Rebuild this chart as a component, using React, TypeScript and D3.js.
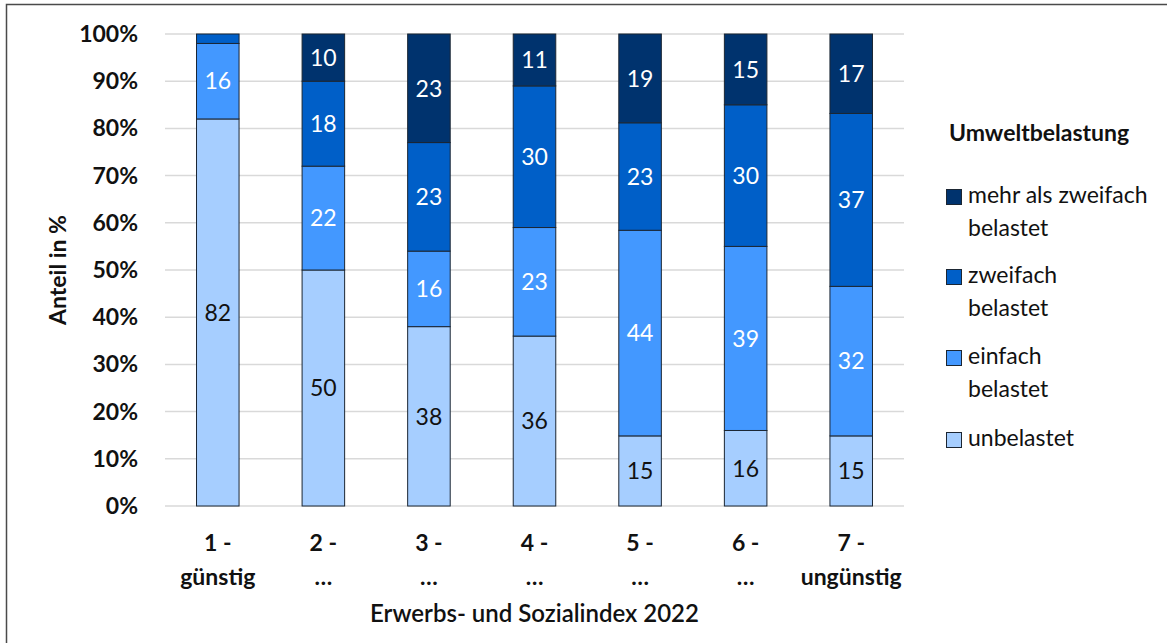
import { useEffect, useRef } from 'react';
import * as d3 from 'd3';

const categories = ['1 - günstig', '2 - …', '3 - …', '4 - …', '5 - …', '6 - …', '7 - ungünstig'];
const tickLines = [
    ['1 -', 'günstig'], ['2 -', '…'], ['3 -', '…'], ['4 -', '…'], ['5 -', '…'], ['6 -', '…'], ['7 -', 'ungünstig'],
];
const unbelastet = [82, 50, 38, 36, 15, 16, 15];
const einfach = [16, 22, 16, 23, 44, 39, 32];
const zweifach = [2, 18, 23, 30, 23, 30, 37];
const mehrfach = [0, 10, 23, 11, 19, 15, 17];

const seriesKeys = ['unbelastet', 'einfach', 'zweifach', 'mehr'];
const seriesColors = ['#A6CEFF', '#4398FF', '#005FC8', '#00336E'];
const labelColors = ['#111111', '#ffffff', '#ffffff', '#ffffff'];
const legendLabels = [
    ['mehr als zweifach', 'belastet'],
    ['zweifach', 'belastet'],
    ['einfach', 'belastet'],
    ['unbelastet'],
];
const legendColors = ['#00336E', '#005FC8', '#4398FF', '#A6CEFF'];

const FONT = 'Lato, "Noto Sans", sans-serif';

export default function App() {
    const svgRef = useRef<SVGSVGElement>(null);

    useEffect(() => {
        if (!svgRef.current) return;
        const svg = d3.select(svgRef.current);
        svg.selectAll('*').remove();

        const width = 1167, height = 643;
        const margin = { top: 34, left: 165, right: 263, bottom: 137 };
        const innerWidth = width - margin.left - margin.right;
        const innerHeight = height - margin.top - margin.bottom;

        const rows = categories.map((c, i) => ({
            cat: c,
            unbelastet: unbelastet[i],
            einfach: einfach[i],
            zweifach: zweifach[i],
            mehr: mehrfach[i],
        }));

        const stack = d3.stack<any>().keys(seriesKeys).offset(d3.stackOffsetExpand);
        const stacked = stack(rows);

        const x = d3.scaleBand().domain(categories).range([0, innerWidth]).paddingInner(0.597).paddingOuter(0.2985);
        const y = d3.scaleLinear().domain([0, 1]).range([innerHeight, 0]);

        // frame
        svg.append('rect')
            .attr('x', 6.5).attr('y', 4.5)
            .attr('width', width + 20).attr('height', height + 20)
            .attr('fill', 'white').attr('stroke', '#4a4a4a').attr('stroke-width', 1.5);

        const g = svg.append('g').attr('transform', `translate(${margin.left},${margin.top})`);

        // grid
        g.append('g').selectAll('line')
            .data(d3.range(0, 1.0001, 0.1))
            .enter().append('line')
            .attr('x1', 0).attr('x2', innerWidth)
            .attr('y1', d => y(d)).attr('y2', d => y(d))
            .attr('stroke', '#d9d9d9').attr('stroke-width', 1.5);

        // y tick labels
        g.append('g').selectAll('text')
            .data(d3.range(0, 1.0001, 0.1))
            .enter().append('text')
            .attr('x', -27).attr('y', d => y(d))
            .attr('dy', '0.35em')
            .attr('text-anchor', 'end')
            .attr('font-family', FONT).attr('font-weight', 700).attr('font-size', 23)
            .attr('fill', '#111')
            .text(d => d3.format('.0%')(d));

        // bars
        stacked.forEach((layer, si) => {
            const lg = g.append('g');
            lg.selectAll('rect')
                .data(layer)
                .enter().append('rect')
                .attr('x', d => x(d.data.cat)!)
                .attr('width', x.bandwidth())
                .attr('y', d => y(d[1]))
                .attr('height', d => Math.max(0, y(d[0]) - y(d[1])))
                .attr('fill', seriesColors[si])
                .attr('stroke', '#1b2633').attr('stroke-width', 1)
                .attr('display', d => (d[1] - d[0] > 0 ? null : 'none'));

            lg.selectAll('text')
                .data(layer.filter((d: any) => d.data[seriesKeys[si]] >= 5))
                .enter().append('text')
                .attr('x', d => x(d.data.cat)! + x.bandwidth() / 2)
                .attr('y', d => y((d[0] + d[1]) / 2))
                .attr('dy', '0.36em')
                .attr('text-anchor', 'middle')
                .attr('font-family', FONT).attr('font-size', 23)
                .attr('fill', labelColors[si])
                .text(d => d.data[seriesKeys[si]]);
        });

        // x tick labels
        const xt = g.append('g').attr('transform', `translate(0,${innerHeight})`);
        categories.forEach((c, i) => {
            const t = xt.append('text')
                .attr('x', x(c)! + x.bandwidth() / 2)
                .attr('text-anchor', 'middle')
                .attr('font-family', FONT).attr('font-weight', 700).attr('font-size', 23)
                .attr('fill', '#111');
            tickLines[i].forEach((line, li) => {
                t.append('tspan')
                    .attr('x', x(c)! + x.bandwidth() / 2)
                    .attr('y', 45 + li * 34)
                    .text(line);
            });
        });

        // axis titles
        svg.append('text')
            .attr('x', margin.left + innerWidth / 2).attr('y', 622)
            .attr('text-anchor', 'middle')
            .attr('font-family', FONT).attr('font-weight', 600).attr('font-size', 24)
            .attr('fill', '#111')
            .text('Erwerbs- und Sozialindex 2022');

        svg.append('text')
            .attr('transform', `translate(66,270) rotate(-90)`)
            .attr('text-anchor', 'middle')
            .attr('font-family', FONT).attr('font-weight', 700).attr('font-size', 23)
            .attr('fill', '#111')
            .text('Anteil in %');

        // legend
        const leg = svg.append('g');
        leg.append('text')
            .attr('x', 949).attr('y', 141)
            .attr('font-family', FONT).attr('font-weight', 700).attr('font-size', 23)
            .attr('fill', '#111')
            .text('Umweltbelastung');

        const legY = [197, 277, 358, 440];
        legendLabels.forEach((lines, i) => {
            leg.append('rect')
                .attr('x', 946.5).attr('y', legY[i] - 7.5)
                .attr('width', 15).attr('height', 15)
                .attr('fill', legendColors[i])
                .attr('stroke', '#1b2633').attr('stroke-width', 1);
            const t = leg.append('text')
                .attr('font-family', FONT).attr('font-size', 23)
                .attr('fill', '#111');
            lines.forEach((line, li) => {
                t.append('tspan')
                    .attr('x', 968)
                    .attr('y', legY[i] - 2 + li * 33)
                    .attr('dy', '0.35em')
                    .text(line);
            });
        });
    }, []);

    return (
        <div style={{ position: 'absolute', left: 0, top: 0, width: 1167, height: 643, background: 'white' }}>
            <svg ref={svgRef} width={1167} height={643} />
        </div>
    );
}
